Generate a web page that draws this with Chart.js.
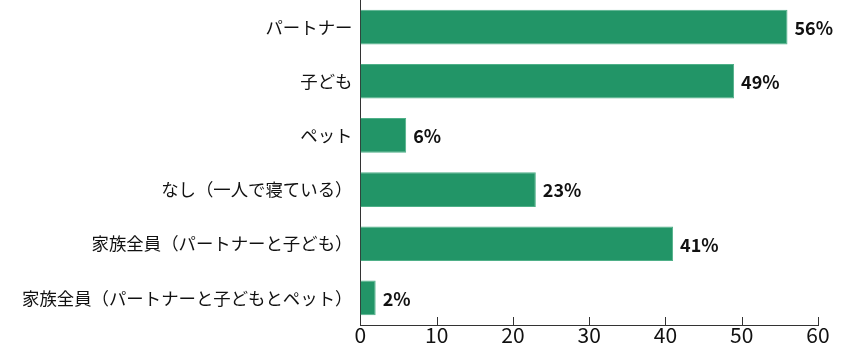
<!DOCTYPE html>
<html>
<head>
<meta charset="utf-8">
<script src="https://cdn.jsdelivr.net/npm/chart.js@4"></script>
<style>
  html, body { margin: 0; padding: 0; background: #fff; }
  #wrap { width: 850px; height: 346px; }
</style>
</head>
<body>
<div id="wrap"><canvas id="chart"></canvas></div>
<script>
// datos
const categorias = [
    "パートナー",
    "子ども",
    "ペット",
    "なし（一人で寝ている）",
    "家族全員（パートナーと子ども）",
    "家族全員（パートナーと子どもとペット）"
];
const porcentajes = [56, 49, 6, 23, 41, 2];
const ticksX = [0, 10, 20, 30, 40, 50, 60];

const FUENTE = "'Noto Sans CJK JP', 'Noto Sans', sans-serif";

// etiquetas al final de cada barra
const etiquetasBarra = {
    id: "etiquetasBarra",
    afterDatasetsDraw(chart) {
        const ctx = chart.ctx;
        const meta = chart.getDatasetMeta(0);
        ctx.save();
        ctx.font = "bold 18px " + FUENTE;
        ctx.fillStyle = "#111";
        ctx.textAlign = "left";
        ctx.textBaseline = "middle";
        meta.data.forEach((bar, i) => {
            ctx.fillText(porcentajes[i] + "%", bar.x + 7, bar.y + 1);
        });
        ctx.restore();
    }
};

// marcas del eje x hacia dentro
const marcasEje = {
    id: "marcasEje",
    afterDraw(chart) {
        const ctx = chart.ctx;
        const x = chart.scales.x;
        const abajo = chart.chartArea.bottom;
        ctx.save();
        ctx.strokeStyle = "#333";
        ctx.lineWidth = 1;
        ticksX.forEach(v => {
            const px = Math.round(x.getPixelForValue(v)) + 0.5;
            ctx.beginPath();
            ctx.moveTo(px, abajo);
            ctx.lineTo(px, abajo - 8);
            ctx.stroke();
        });
        ctx.restore();
    }
};

new Chart(document.getElementById("chart"), {
    type: "bar",
    data: {
        labels: categorias,
        datasets: [{
            data: porcentajes,
            backgroundColor: "#229567",
            borderColor: "#4fb088",
            borderWidth: 1,
            categoryPercentage: 1,
            barPercentage: 0.64
        }]
    },
    options: {
        indexAxis: "y",
        responsive: true,
        maintainAspectRatio: false,
        animation: false,
        layout: { padding: { top: 0, right: 32, left: 14, bottom: 0 } },
        plugins: {
            legend: { display: false },
            tooltip: { enabled: false }
        },
        scales: {
            x: {
                min: 0,
                max: 60,
                afterBuildTicks: s => { s.ticks = ticksX.map(v => ({ value: v })); },
                border: { display: true, color: "#333", width: 1 },
                grid: { display: false, drawTicks: false },
                ticks: {
                    padding: 0,
                    color: "#111",
                    font: { family: FUENTE, size: 21, lineHeight: 1.0 }
                }
            },
            y: {
                afterFit: s => { s.paddingTop = 0; s.paddingBottom = 0; },
                border: { display: true, color: "#333", width: 1 },
                grid: { display: false, drawTicks: false },
                ticks: {
                    padding: 8,
                    color: "#111",
                    font: { family: FUENTE, size: 17.4 }
                }
            }
        }
    },
    plugins: [etiquetasBarra, marcasEje]
});
</script>
</body>
</html>
